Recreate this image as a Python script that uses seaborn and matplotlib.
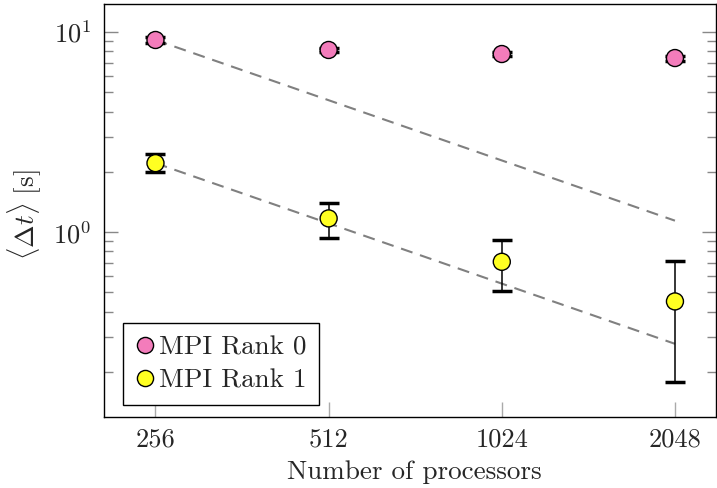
import numpy as np
import pandas as pd
import seaborn as sns
import matplotlib.pyplot as plt
from matplotlib.ticker import LogLocator, FixedLocator, FixedFormatter, NullFormatter

sns.set_style("white")
plt.rcParams['font.family'] = ['cmr10', 'DejaVu Serif']
plt.rcParams['mathtext.fontset'] = 'cm'
plt.rcParams['axes.formatter.use_mathtext'] = True

# %% Data

procs = [256, 512, 1024, 2048]
rank0_mean = [9.12, 8.13, 7.76, 7.41]
rank0_low = [8.85, 7.9, 7.55, 7.2]
rank0_high = [9.4, 8.35, 7.97, 7.62]
rank1_mean = [2.21, 1.17, 0.71, 0.45]
rank1_low = [2.0, 0.93, 0.51, 0.178]
rank1_high = [2.45, 1.40, 0.91, 0.72]
series_names = ['MPI Rank 0', 'MPI Rank 1']
colors = ['#f37cbb', '#ffff22']

data = pd.DataFrame({
    'Processors': procs * 2,
    'Time': rank0_mean + rank1_mean,
    'Low': rank0_low + rank1_low,
    'High': rank0_high + rank1_high,
    'Series': [series_names[0]] * 4 + [series_names[1]] * 4,
})

# ideal scaling from the first point
ideal = data.copy()
first = ideal.groupby('Series')['Time'].transform('first')
ideal['Time'] = first * procs[0] / ideal['Processors']

# %% Plot

fig = plt.figure(figsize=(7.17, 4.88), dpi=100)
ax = fig.add_axes([0.1444, 0.1455, 0.8542, 0.8463])

sns.lineplot(data=ideal, x='Processors', y='Time', units='Series', estimator=None,
             color='#808080', linestyle=(0, (5.8, 3.8)), lw=1.5, ax=ax, legend=False, zorder=1)

for name, c in zip(series_names, colors):
    sub = data[data.Series == name]
    ax.errorbar(sub.Processors, sub.Time,
                yerr=[sub.Time - sub.Low, sub.High - sub.Time],
                fmt='none', ecolor='black', elinewidth=1.1, capsize=7, capthick=2.5, zorder=2)

sns.scatterplot(data=data, x='Processors', y='Time', hue='Series', palette=colors,
                s=150, edgecolor='black', linewidth=1.0, ax=ax, zorder=3)

ax.set_xscale('log', base=2)
ax.set_yscale('log')
ax.set_xlim(2 ** 7.7, 2 ** 11.237)
ax.set_ylim(0.119, 13.8)
ax.xaxis.set_major_locator(FixedLocator(procs))
ax.xaxis.set_major_formatter(FixedFormatter([str(p) for p in procs]))
ax.xaxis.set_minor_locator(FixedLocator([]))
ax.yaxis.set_major_locator(LogLocator(base=10, subs=(1.0,)))
ax.yaxis.set_minor_locator(LogLocator(base=10, subs=np.arange(2, 10)))
ax.yaxis.set_minor_formatter(NullFormatter())

ax.tick_params(axis='y', which='both', direction='in', left=True, right=True,
               color='#888888', labelsize=19)
ax.tick_params(axis='y', which='major', length=10, width=1, pad=9)
ax.tick_params(axis='y', which='minor', length=6.5, width=1)
ax.tick_params(axis='x', which='major', direction='in', bottom=True, top=False,
               length=11, width=1, color='#aaaaaa', labelsize=19, pad=8)

for sp in ax.spines.values():
    sp.set_color('black')
    sp.set_linewidth(1.0)

ax.set_xlabel('Number of processors', fontsize=19.5)
ax.set_ylabel(r'$\langle \mathit{\Delta} t\rangle\ [\mathrm{s}]$', fontsize=19.5)
ax.xaxis.set_label_coords(0.507, -0.105)
ax.yaxis.set_label_coords(-0.097, 0.489)

leg = ax.legend(loc='lower left', bbox_to_anchor=(0.031, 0.029), borderaxespad=0,
                fontsize=19.5, frameon=True, fancybox=False, framealpha=1,
                handletextpad=0.15, handlelength=0.75, borderpad=0.45, labelspacing=0.36,
                markerscale=0.95)
leg.get_frame().set_edgecolor('black')
leg.get_frame().set_linewidth(1.0)

plt.savefig('out.png', dpi=100)
